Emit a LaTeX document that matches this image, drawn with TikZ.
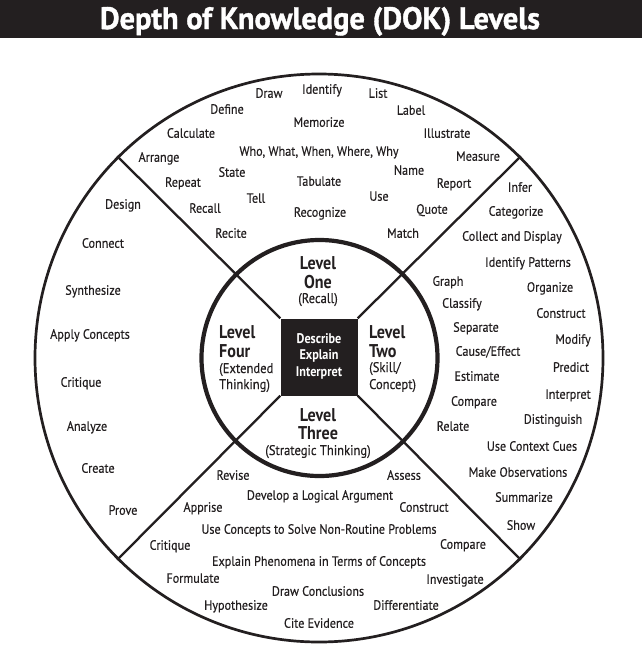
\documentclass[tikz,border=0pt]{standalone}
\usepackage{fontspec}
\setmainfont{PT Sans}[FakeStretch=0.87]
\newfontfamily\wordfont{PT Sans}[FakeStretch=0.9, FakeBold=0.35]
\newfontfamily\titlefont{PT Sans Bold}[FakeStretch=0.98, FakeBold=1.2]
\definecolor{ink}{HTML}{231F20}
\tikzset{
  word/.style={inner sep=0pt, text=ink, font=\wordfont\fontsize{13.5}{14}\selectfont, text height=9.5pt, text depth=0pt},
  lvl/.style={inner sep=0pt, text=ink, font=\bfseries\fontsize{18.5}{19}\selectfont, text height=13pt, text depth=0pt},
  sub/.style={inner sep=0pt, text=ink, font=\wordfont\fontsize{14}{15}\selectfont, text height=10pt, text depth=0pt},
  ring/.style={circle, draw=ink, inner sep=0pt},
  diag/.style={draw=ink, line width=2.3pt},
}
\begin{document}
\begin{tikzpicture}[x=1pt,y=-1pt]
\useasboundingbox (0,0) rectangle (642,662);
% title bar
\node[fill=ink, minimum width=642pt, minimum height=38pt, inner sep=0pt, anchor=north west] (bar) at (0,0) {};
\node[inner sep=0pt, text=white, font=\titlefont\fontsize{31}{32}\selectfont, text height=22pt, text depth=0pt] (title) at (320,18) {Depth of Knowledge (DOK) Levels};
% rings and square
\node[ring, line width=2.7pt, minimum size=568pt] (outer) at (319,358) {};
\node[ring, line width=4.2pt, minimum size=236pt] (inner) at (319.5,358) {};
\node[fill=ink, minimum size=77pt, inner sep=0pt] (sq) at (319,357) {};
\draw[diag] (sq.north west) -- (outer.135);
\draw[diag] (sq.north east) -- (outer.45);
\draw[diag] (sq.south west) -- (outer.225);
\draw[diag] (sq.south east) -- (outer.315);
\node[inner sep=0pt, text=white, font=\bfseries\fontsize{14}{16.5}\selectfont, align=center] (sqt) at (319,356) {Describe\\Explain\\Interpret};
% central level labels
\node[lvl] (l1a) at (318,263) {Level};
\node[lvl] (l1b) at (318,282) {One};
\node[sub] (l1c) at (318,298) {(Recall)};
\node[lvl, anchor=west] (l2a) at (369,332) {Level};
\node[lvl, anchor=west] (l2b) at (369,351) {Two};
\node[sub, anchor=west] (l2c) at (369,367) {(Skill/};
\node[sub, anchor=west] (l2d) at (369,384) {Concept)};
\node[lvl] (l3a) at (318,415) {Level};
\node[lvl] (l3b) at (318,433) {Three};
\node[sub] (l3c) at (318,450) {(Strategic Thinking)};
\node[lvl, anchor=west] (l4a) at (219,332) {Level};
\node[lvl, anchor=west] (l4b) at (219,351) {Four};
\node[sub, anchor=west] (l4c) at (219,368) {(Extended};
\node[sub, anchor=west] (l4d) at (219,384) {Thinking)};
% Level One words
\foreach \t/\x/\y [count=\i] in {
  Draw/269/93, Identify/322/89, List/378/93, Define/227/109, Label/411/110,
  Memorize/319/122, Calculate/191/133, Illustrate/447/133,
  {Who, What, When, Where, Why}/319/151, Arrange/159/157, Measure/478/156,
  State/232/172, Name/409/170, Repeat/183/182, Tabulate/319/181, Report/454/183,
  Tell/256/198, Use/379/196, Recall/205/208, Recognize/320/212, Quote/432/209,
  Recite/231/233, Match/403/233}
  \node[word] (a\i) at (\x,\y) {\t};
% Level Two words
\foreach \t/\x/\y [count=\i] in {
  Infer/520/187, Categorize/516/211, Collect and Display/512/236,
  Identify Patterns/528/262, Graph/448/281, Organize/550/287, Classify/462/303,
  Construct/561/313, Separate/476/327, Modify/573/339, {Cause/Effect}/488/351,
  Predict/571/367, Estimate/477/376, Interpret/568/394, Compare/474/401,
  Distinguish/553/419, Relate/453/426, Use Context Cues/532/446,
  Make Observations/518/472, Summarize/524/497, Show/521/525}
  \node[word] (b\i) at (\x,\y) {\t};
% Level Three words
\foreach \t/\x/\y [count=\i] in {
  Revise/233/475, Assess/404/475, Develop a Logical Argument/320/495,
  Apprise/203/507, Construct/424/507,
  Use Concepts to Solve Non-Routine Problems/319/529,
  Critique/170/545, Compare/463/544,
  Explain Phenomena in Terms of Concepts/319/561,
  Formulate/193/578, Investigate/455/579, Draw Conclusions/318/591,
  Hypothesize/236/605, Differentiate/406/605, Cite Evidence/319/623}
  \node[word] (c\i) at (\x,\y) {\t};
% Level Four words
\foreach \t/\x/\y [count=\i] in {
  Design/123/204, Connect/103/243, Synthesize/93/290, Apply Concepts/90/334,
  Critique/81/382, Analyze/87/426, Create/98/468, Prove/123/510}
  \node[word] (d\i) at (\x,\y) {\t};
\end{tikzpicture}
\end{document}
